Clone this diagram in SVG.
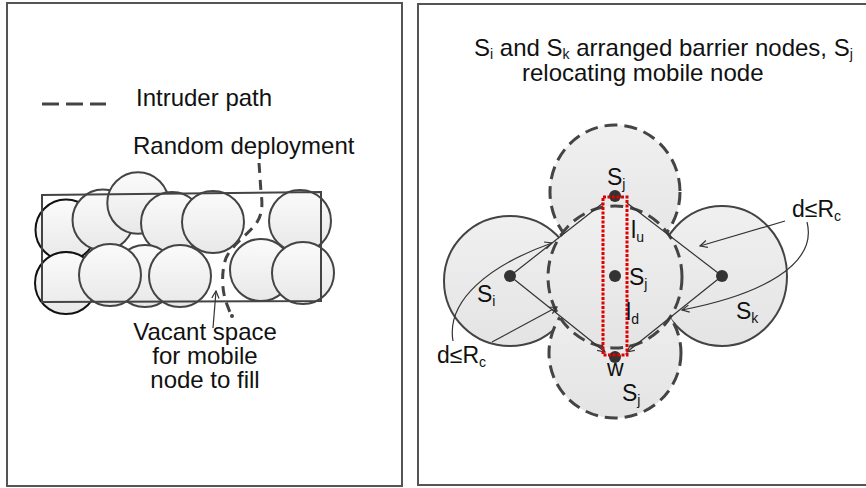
<svg xmlns="http://www.w3.org/2000/svg" width="866" height="488" viewBox="0 0 866 488">
<style>
text{font-family:"Liberation Sans",Arial,sans-serif;fill:#111}
.big{font-size:24px}
.lab{font-size:23px}
.sub{font-size:14px}
.frame{fill:#fff;stroke:#555;stroke-width:2}
.lc{fill:url(#gl);stroke:#444;stroke-width:2}
.lcb{fill:url(#gl);stroke:#111;stroke-width:2}
.rc{fill:url(#gr);stroke:#444;stroke-width:2}
.rd{fill:url(#gr);stroke:#444;stroke-width:3;stroke-dasharray:13 7}
.dash{fill:none;stroke:#444;stroke-width:3;stroke-dasharray:10 7}
.thin{fill:none;stroke:#333;stroke-width:1.2}
.dot{fill:#333}
</style>
<defs>
<linearGradient id="gl" x1="0" y1="0" x2="0" y2="1"><stop offset="0" stop-color="#fbfbfb"/><stop offset="1" stop-color="#e8e8e8"/></linearGradient>
<linearGradient id="gr" x1="0" y1="0" x2="0" y2="1"><stop offset="0" stop-color="#f0f0f0"/><stop offset="1" stop-color="#e4e4e4"/></linearGradient>
<marker id="oa" viewBox="0 0 10 10" refX="9" refY="5" markerWidth="9" markerHeight="9" orient="auto" markerUnits="userSpaceOnUse"><path d="M1,1 L9,5 L1,9" fill="none" stroke="#333" stroke-width="1.3"/></marker>
</defs>

<g id="panel-left">
<rect class="frame" x="7" y="3" width="395" height="483"/>
<line x1="42" y1="104" x2="106" y2="104" stroke="#444" stroke-width="3" stroke-dasharray="17 7"/>
<text class="big" x="136" y="106">Intruder path</text>
<text class="big" x="133" y="154">Random deployment</text>
<g id="deployment">
<circle class="lcb" cx="66" cy="230" r="30.5"/>
<circle class="lcb" cx="66" cy="283" r="31"/>
<circle class="lc" cx="103" cy="220" r="30.5"/>
<circle class="lc" cx="138" cy="203" r="30.7"/>
<circle class="lc" cx="172" cy="223" r="31"/>
<circle class="lc" cx="145" cy="276" r="31"/>
<circle class="lc" cx="110" cy="275" r="31"/>
<circle class="lc" cx="180" cy="276" r="31"/>
<circle class="lc" cx="213" cy="222" r="31"/>
<circle class="lc" cx="261" cy="270" r="31"/>
<circle class="lc" cx="300" cy="221" r="31"/>
<circle class="lc" cx="303" cy="273" r="31"/>
<polygon points="42,195 321,192 321,301 42,302" fill="none" stroke="#444" stroke-width="2"/>
</g>
<path class="dash" d="M259,163 L261,192 C263,207 262,216 255,225 C246,236 232,245 226,258 C221,272 222,290 226,302 L231,315"/>
<circle cx="232" cy="316" r="2" fill="#444"/>
<line class="thin" x1="213" y1="328" x2="216" y2="291" marker-end="url(#oa)"/>
<text class="big" text-anchor="middle" x="205" y="340">Vacant space</text>
<text class="big" text-anchor="middle" x="205" y="364">for mobile</text>
<text class="big" text-anchor="middle" x="205" y="388">node to fill</text>
</g>

<g id="panel-right">
<rect class="frame" x="418" y="4" width="460" height="481"/>
<text class="big" x="474" y="56">S<tspan class="sub" dy="3">i</tspan><tspan dy="-3"> and S</tspan><tspan class="sub" dy="3">k</tspan><tspan dy="-3"> arranged barrier nodes, S</tspan><tspan class="sub" dy="3">j</tspan></text>
<text class="big" x="522" y="81">relocating mobile node</text>
</g>

<g id="node-Si"><ellipse class="rc" cx="510" cy="281" rx="66" ry="65"/></g>
<g id="node-Sk"><ellipse class="rc" cx="722" cy="276" rx="65" ry="70"/></g>
<g id="node-Sj-top"><ellipse class="rd" cx="615" cy="192" rx="65" ry="67"/></g>
<g id="node-Sj-bottom"><ellipse class="rd" cx="615" cy="353" rx="66" ry="65"/></g>
<g id="node-Sj-mid"><ellipse class="rd" cx="615" cy="277" rx="67" ry="71"/></g>

<g id="connectors">
<polyline class="thin" points="510,276 603,203"/>
<polyline class="thin" points="627,203 722,276"/>
<polyline class="thin" points="510,276 605,352" marker-end="url(#oa)"/>
<polyline class="thin" points="722,276 627,352" marker-end="url(#oa)"/>
<path class="thin" d="M453,341 C446,300 490,265 552,243" marker-end="url(#oa)"/>
<line class="thin" x1="492" y1="342" x2="557" y2="307" marker-end="url(#oa)"/>
<line class="thin" x1="785" y1="221" x2="700" y2="246" marker-end="url(#oa)"/>
<path class="thin" d="M807,222 C818,265 760,295 682,310" marker-end="url(#oa)"/>
</g>

<g id="dots">
<circle class="dot" cx="510" cy="276" r="6"/>
<circle class="dot" cx="722" cy="276" r="6"/>
<circle class="dot" cx="615" cy="276" r="6"/>
<circle class="dot" cx="615" cy="196" r="6"/>
<circle class="dot" cx="615" cy="357" r="6"/>
</g>
<rect id="window" x="603" y="197" width="24" height="158" fill="none" stroke="#e00000" stroke-width="3" stroke-dasharray="3 1.5"/>

<g id="labels">
<text class="lab" x="607" y="185">S<tspan class="sub" dy="4">j</tspan></text>
<text class="lab" x="631" y="238">l<tspan class="sub" dy="4">u</tspan></text>
<text class="lab" x="629" y="285">S<tspan class="sub" dy="4">j</tspan></text>
<text class="lab" x="626" y="320">l<tspan class="sub" dy="4">d</tspan></text>
<text class="lab" x="607" y="376">w</text>
<text class="lab" x="622" y="401">S<tspan class="sub" dy="4">j</tspan></text>
<text class="lab" x="477" y="302">S<tspan class="sub" dy="4">i</tspan></text>
<text class="lab" x="736" y="319">S<tspan class="sub" dy="4">k</tspan></text>
<text class="lab" x="437" y="363">d≤R<tspan class="sub" dy="4">c</tspan></text>
<text class="lab" x="792" y="217">d≤R<tspan class="sub" dy="4">c</tspan></text>
</g>
</svg>
